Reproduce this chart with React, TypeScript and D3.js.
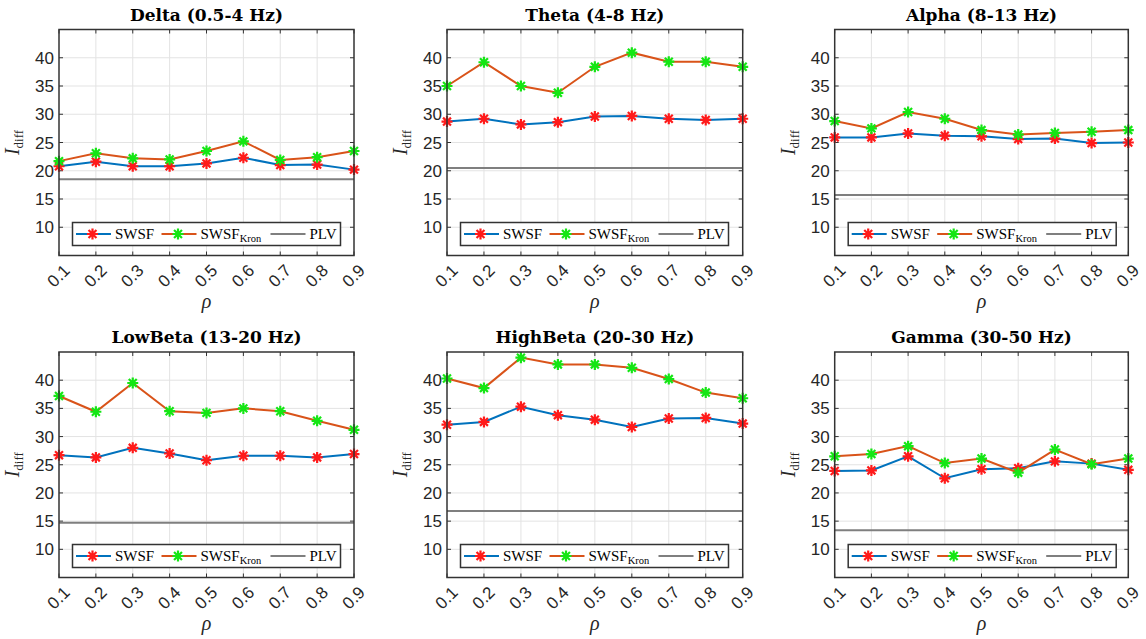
import React, { useRef, useEffect } from 'react';
import * as d3 from 'd3';

// rho values on the x axis
const rho = [0.1, 0.2, 0.3, 0.4, 0.5, 0.6, 0.7, 0.8, 0.9];
const rhoLabels = ['0.1', '0.2', '0.3', '0.4', '0.5', '0.6', '0.7', '0.8', '0.9'];
const yTicks = [10, 15, 20, 25, 30, 35, 40];

const bandTitles = [
    'Delta (0.5-4 Hz)',
    'Theta (4-8 Hz)',
    'Alpha (8-13 Hz)',
    'LowBeta (13-20 Hz)',
    'HighBeta (20-30 Hz)',
    'Gamma (30-50 Hz)',
];

const swsfDelta = [20.8, 21.6, 20.8, 20.8, 21.3, 22.3, 21.0, 21.1, 20.2];
const kronDelta = [21.7, 23.1, 22.2, 22.0, 23.5, 25.2, 21.9, 22.4, 23.5];
const swsfTheta = [28.7, 29.2, 28.2, 28.6, 29.6, 29.7, 29.2, 29.0, 29.2];
const kronTheta = [35.0, 39.2, 35.0, 33.8, 38.4, 40.9, 39.3, 39.3, 38.4];
const swsfAlpha = [25.9, 25.9, 26.6, 26.2, 26.1, 25.6, 25.7, 24.9, 25.0];
const kronAlpha = [28.8, 27.5, 30.4, 29.2, 27.2, 26.4, 26.7, 26.9, 27.2];
const swsfLowBeta = [26.7, 26.3, 28.0, 27.0, 25.8, 26.6, 26.6, 26.3, 26.9];
const kronLowBeta = [37.2, 34.4, 39.5, 34.5, 34.2, 35.0, 34.5, 32.8, 31.2];
const swsfHighBeta = [32.1, 32.6, 35.3, 33.8, 33.0, 31.7, 33.2, 33.3, 32.3];
const kronHighBeta = [40.3, 38.6, 44.0, 42.8, 42.8, 42.2, 40.2, 37.8, 36.8];
const swsfGamma = [23.9, 24.0, 26.5, 22.6, 24.2, 24.4, 25.6, 25.2, 24.1];
const kronGamma = [26.5, 26.9, 28.3, 25.3, 26.1, 23.6, 27.7, 25.1, 26.1];
const plvLevels = [18.5, 20.5, 15.7, 14.7, 16.8, 13.4];

const swsfSeries = [swsfDelta, swsfTheta, swsfAlpha, swsfLowBeta, swsfHighBeta, swsfGamma];
const kronSeries = [kronDelta, kronTheta, kronAlpha, kronLowBeta, kronHighBeta, kronGamma];

const BLUE = '#0072BD';
const ORANGE = '#D95319';
const GRAY = '#7f7f7f';
const RED = '#ff1a1a';
const GREEN = '#14e614';

const star = (r: number) => {
    const d = r * 0.72;
    return `M${-r},0H${r}M0,${-r}V${r}M${-d},${-d}L${d},${d}M${-d},${d}L${d},${-d}`;
};

const App = () => {
    const svgRef = useRef<SVGSVGElement>(null);

    useEffect(() => {
        const svg = d3.select(svgRef.current);
        svg.selectAll('*').remove();

        const cols = [[59, 354], [447, 742.7], [834.7, 1128.3]];
        const rows = [[29.5, 255.5], [352, 577.5]];

        bandTitles.forEach((title, i) => {
            const [left, right] = cols[i % 3];
            const [top, bottom] = rows[Math.floor(i / 3)];

            const x = d3.scaleLinear().domain([0.1, 0.9]).range([left, right]);
            const y = d3.scaleLinear().domain([5, 45]).range([bottom, top]);

            const g = svg.append('g');

            // background
            g.append('rect')
                .attr('x', left).attr('y', top)
                .attr('width', right - left).attr('height', bottom - top)
                .attr('fill', '#fff');

            // grid
            g.selectAll('line.gx')
                .data(rho.slice(1, -1))
                .enter().append('line')
                .attr('x1', d => x(d)).attr('x2', d => x(d))
                .attr('y1', top).attr('y2', bottom)
                .attr('stroke', '#e3e3e3').attr('stroke-width', 1);
            g.selectAll('line.gy')
                .data(yTicks)
                .enter().append('line')
                .attr('x1', left).attr('x2', right)
                .attr('y1', d => y(d)).attr('y2', d => y(d))
                .attr('stroke', '#e3e3e3').attr('stroke-width', 1);

            // inward ticks
            yTicks.forEach(t => {
                g.append('line').attr('x1', left).attr('x2', left + 4)
                    .attr('y1', y(t)).attr('y2', y(t)).attr('stroke', '#333');
                g.append('line').attr('x1', right).attr('x2', right - 4)
                    .attr('y1', y(t)).attr('y2', y(t)).attr('stroke', '#333');
            });
            rho.forEach(t => {
                g.append('line').attr('x1', x(t)).attr('x2', x(t))
                    .attr('y1', bottom).attr('y2', bottom - 4).attr('stroke', '#333');
                g.append('line').attr('x1', x(t)).attr('x2', x(t))
                    .attr('y1', top).attr('y2', top + 4).attr('stroke', '#333');
            });

            // PLV level
            g.append('line')
                .attr('x1', left).attr('x2', right)
                .attr('y1', y(plvLevels[i])).attr('y2', y(plvLevels[i]))
                .attr('stroke', GRAY).attr('stroke-width', 2);

            const line = d3.line<number>()
                .x((_, k) => x(rho[k]))
                .y(d => y(d));

            const drawSeries = (vals: number[], color: string, mark: string) => {
                g.append('path')
                    .datum(vals)
                    .attr('d', line)
                    .attr('fill', 'none')
                    .attr('stroke', color)
                    .attr('stroke-width', 2);
                g.selectAll(null)
                    .data(vals)
                    .enter().append('path')
                    .attr('transform', (d, k) => `translate(${x(rho[k])},${y(d)})`)
                    .attr('d', star(5.5))
                    .attr('stroke', mark)
                    .attr('stroke-width', 2.2)
                    .attr('fill', 'none');
            };
            drawSeries(swsfSeries[i], BLUE, RED);
            drawSeries(kronSeries[i], ORANGE, GREEN);

            // axes box
            g.append('rect')
                .attr('x', left).attr('y', top)
                .attr('width', right - left).attr('height', bottom - top)
                .attr('fill', 'none').attr('stroke', '#333').attr('stroke-width', 1.5);

            // y tick labels
            g.selectAll('text.yt')
                .data(yTicks)
                .enter().append('text')
                .attr('x', left - 5)
                .attr('y', d => y(d))
                .attr('dy', '0.36em')
                .attr('text-anchor', 'end')
                .style('font-family', '"Liberation Sans", Arial, sans-serif')
                .style('font-size', '17px')
                .attr('fill', '#262626')
                .text(d => d);

            // x tick labels, rotated
            g.selectAll('text.xt')
                .data(rho)
                .enter().append('text')
                .attr('transform', d => `translate(${x(d) + 12},${bottom + 16}) rotate(-45)`)
                .attr('text-anchor', 'end')
                .style('font-family', '"Liberation Sans", Arial, sans-serif')
                .style('font-size', '17px')
                .attr('fill', '#262626')
                .text((_, k) => rhoLabels[k]);

            // title
            g.append('text')
                .attr('x', (left + right) / 2)
                .attr('y', top - 9)
                .attr('text-anchor', 'middle')
                .style('font-family', '"DejaVu Serif", serif')
                .style('font-size', '17px')
                .style('font-weight', 'bold')
                .attr('fill', '#000')
                .text(title);

            // x label
            g.append('text')
                .attr('x', (left + right) / 2)
                .attr('y', bottom + 52)
                .attr('text-anchor', 'middle')
                .style('font-family', '"Liberation Serif", serif')
                .style('font-style', 'italic')
                .style('font-size', '20px')
                .attr('fill', '#262626')
                .text('ρ');

            // y label
            const yl = g.append('text')
                .attr('transform', `translate(${left - 40},${(top + bottom) / 2}) rotate(-90)`)
                .attr('text-anchor', 'middle')
                .style('font-family', '"Liberation Serif", serif')
                .attr('fill', '#262626');
            yl.append('tspan').style('font-style', 'italic').style('font-size', '20px').text('I');
            yl.append('tspan').style('font-size', '13px').attr('dy', 4).text('diff');

            // legend
            const lx = left + 13.5;
            const ly = bottom - 33;
            const cy = ly + 11.5;
            g.append('rect')
                .attr('x', lx).attr('y', ly)
                .attr('width', 268).attr('height', 23)
                .attr('fill', '#fff').attr('stroke', '#333').attr('stroke-width', 1.5);

            const legendFont = '"Liberation Serif", serif';
            const items = [
                { x0: 3.5, color: BLUE, mark: RED, label: 'SWSF', sub: '' },
                { x0: 89, color: ORANGE, mark: GREEN, label: 'SWSF', sub: 'Kron' },
                { x0: 198, color: GRAY, mark: '', label: 'PLV', sub: '' },
            ];
            items.forEach(it => {
                g.append('line')
                    .attr('x1', lx + it.x0).attr('x2', lx + it.x0 + 35)
                    .attr('y1', cy).attr('y2', cy)
                    .attr('stroke', it.color).attr('stroke-width', 2);
                if (it.mark) {
                    g.append('path')
                        .attr('transform', `translate(${lx + it.x0 + 16.5},${cy})`)
                        .attr('d', star(5.5))
                        .attr('stroke', it.mark).attr('stroke-width', 2.2).attr('fill', 'none');
                }
                const t = g.append('text')
                    .attr('x', lx + it.x0 + 39)
                    .attr('y', cy + 5)
                    .style('font-family', legendFont)
                    .style('font-size', '15px')
                    .attr('fill', '#000');
                t.append('tspan').text(it.label);
                if (it.sub) {
                    t.append('tspan').attr('dy', 3).style('font-size', '10.5px').text(it.sub);
                }
            });
        });
    }, []);

    return (
        <svg
            ref={svgRef}
            width={1146}
            height={639}
            style={{ position: 'absolute', left: 0, top: 0, background: '#fff' }}
        />
    );
};

export default App;
